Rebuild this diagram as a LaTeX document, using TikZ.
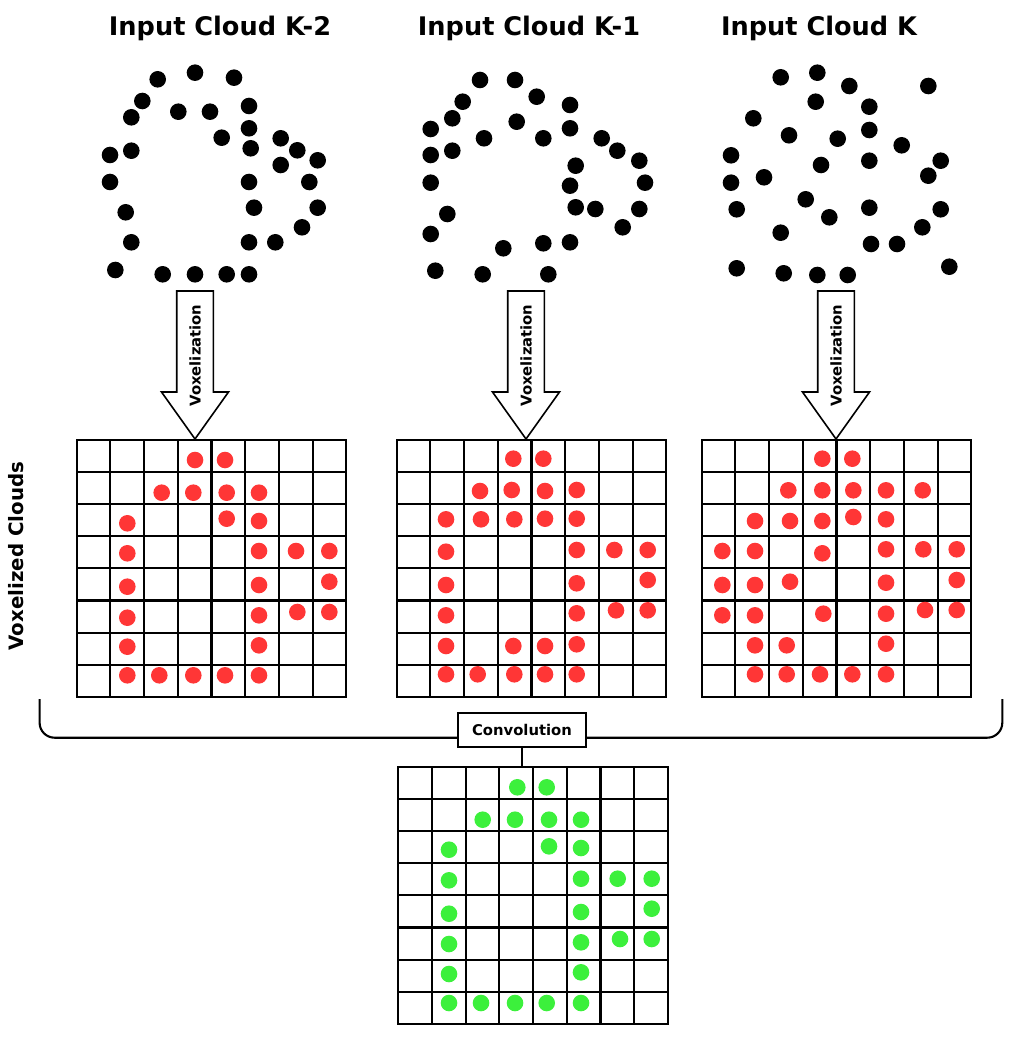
\documentclass[tikz,border=0pt]{standalone}
\usepackage{fontspec}
\setmainfont{DejaVu Sans}
\usetikzlibrary{calc,positioning}

\definecolor{voxred}{HTML}{FF3636}
\definecolor{convgreen}{HTML}{3CF03C}

\tikzset{
  title/.style={font=\fontsize{12.8}{15}\selectfont\bfseries},
  smalllabel/.style={font=\fontsize{7.4}{9}\selectfont\bfseries},
  gridframe/.style={draw, line width=1.05pt, minimum width=134.8pt, minimum height=128.4pt,
    anchor=north west, inner sep=0pt, outer sep=0pt},
  gridline/.style={line width=1.05pt},
  voxarrow/.style={draw, line width=0.8pt, fill=white},
}

% 8x8 voxel grid: name, top left corner
\newcommand{\voxgrid}[2]{%
  \node[gridframe] (#1) at (#2) {};
  \foreach \i in {1,...,7} {
    \draw[gridline] ($(#1.north west)+(\i*33.7,0)$) -- ($(#1.south west)+(\i*33.7,0)$);
    \draw[gridline] ($(#1.north west)+(0,\i*32.1)$) -- ($(#1.north east)+(0,\i*32.1)$);
  }
}

% block arrow pointing down: label name, centre x
\newcommand{\voxdown}[2]{%
  \draw[voxarrow] (#2-18.3,291) -- (#2+18.3,291) -- (#2+18.3,392) -- (#2+33.5,392)
    -- (#2,439) -- (#2-33.5,392) -- (#2-18.3,392) -- cycle;
  \node[smalllabel, rotate=90] (#1) at (#2,355.5) {Voxelization};
}

\begin{document}
\begin{tikzpicture}[x=0.5pt,y=-0.5pt]
    \useasboundingbox (0,0) rectangle (1024,1043);

    % titles
    \node[title] (cloudA) at (220,28) {Input Cloud K-2};
    \node[title] (cloudB) at (529,28) {Input Cloud K-1};
    \node[title] (cloudC) at (819,28) {Input Cloud K};

    % input cloud K-2
    \foreach \x/\y in {157.7/79.3,195/72.7,234/77.7,142.3/101,178.3/111.7,210/111.7,249/106,
        131.3/117.3,249/128.3,221.7/137.7,110/155,131.3/150.7,250.7/148.3,280.7/138.3,
        297.3/150.3,317.7/160.3,280.7/165,110/182,249/182,309.3/182,125.7/212.3,254/207.7,
        317.7/207.7,131.3/242.3,249/242.3,275.3/242.3,302/227.3,115.3/270,162.7/274.3,
        195/274.3,226.7/274.3,249/274.3}
      \fill (\x,\y) circle (4.15pt);

    % input cloud K-1
    \foreach \x/\y in {480/80,515/80,536.7/96.7,570/105,462.7/101.7,452.3/118.3,516.7/121.7,
        570/128.3,430.7/129,484/138.3,543.3/138.3,601.7/138.3,430.7/155,452.3/150.7,
        617.3/150.7,639.3/160.7,575.7/165.7,430.7/182.7,570/185.7,645/182.7,575.7/207.3,
        595.3/209,639.3/209,447.3/214,622.7/227.3,430.7/234,503.3/248.3,543.3/243.3,
        570/242.3,435.3/270.7,482.7/274.3,548.3/274.3}
      \fill (\x,\y) circle (4.15pt);

    % input cloud K
    \foreach \x/\y in {780.7/77.3,817.3/72.7,849.3/86,928.3/86,815.7/101.7,869.3/106.7,
        753.3/118.3,789/135.3,837.7/138.7,869.3/130,901.7/145.3,731/155.3,821/165,
        869.3/160.7,940.7/160.7,928.3/175.7,731/182.7,764/177.3,736.7/209.3,805.7/199.3,
        829.3/217.3,869.3/207.7,940.7/209.3,922.3/227.3,780.7/232.7,871/244,897/244,
        736.7/268.3,783.7/273.3,817.3/275,847.7/275,949.3/266.7}
      \fill (\x,\y) circle (4.15pt);

    % voxelization arrows
    \voxdown{voxA}{195}
    \voxdown{voxB}{526}
    \voxdown{voxC}{836}

    % voxel grids
    \voxgrid{gridA}{76.7,440}
    \voxgrid{gridB}{396.7,440}
    \voxgrid{gridC}{701.7,440}
    \voxgrid{gridD}{398.3,767}

    \node[font=\fontsize{9.9}{12}\selectfont\bfseries, rotate=90] (voxlabel) at (16,556) {Voxelized Clouds};

    % occupied voxels K-2
    \foreach \x/\y in {195/460,225/460,161.7/492.7,193.3/492.7,226.7/492.7,259/492.7,
        127.3/523.3,226.7/518.7,259/521,127.3/553.3,259/551,296/551,329.3/551,
        127.3/586.7,259/585,329.3/581.7,127.3/617.7,259/615.3,297.3/612,329.3/612,
        127.3/646.7,259/645.3,127.3/675.3,159.3/675.3,193.3/675.3,225/675.3,259/675.3}
      \fill[voxred] (\x,\y) circle (4.15pt);

    % occupied voxels K-1
    \foreach \x/\y in {513.3/458.7,543.3/458.7,480/491,511.7/490,545/491,576.7/490,
        446/519.3,481/519.3,514.3/519.3,545/518.7,576.7/518.7,446/551.7,576.7/550,
        614.3/550,647.7/550,446/585,576.7/583.3,647.7/580,446/615.3,576.7/613.3,
        616/610.3,647.7/610.3,446/646,513.3/646,545/646,576.7/644.3,446/674.3,
        477.7/674.3,514.3/674.3,545/674.3,576.7/674.3}
      \fill[voxred] (\x,\y) circle (4.15pt);

    % occupied voxels K
    \foreach \x/\y in {822.3/458.7,852.3/458.7,788.3/490.3,822.3/490.3,853.3/490.3,
        886/490.3,922.7/490.3,755/521,790/521,822.3/521,853.3/517,886/519.3,722.3/551,
        755/551,822.3/553.3,886/549.3,923.3/549.3,956.7/549.3,722.3/585,755/585,
        790/581.7,886/582.7,956.7/580,722.3/615.3,755/615.3,823.3/613.7,886/613.7,
        925/610,956.7/610,755/645.3,786.7/645.3,886/643.7,755/674.3,786.7/674.3,
        820/674.3,852.3/674.3,886/674.3}
      \fill[voxred] (\x,\y) circle (4.15pt);

    % brace and convolution
    \coordinate (braceL) at (39.6,699);
    \coordinate (braceR) at (1002.3,699);
    \draw[gridline, rounded corners=7.5pt] (braceL) -- ++(0,38.7) -| (braceR);
    \node[draw, fill=white, line width=1.05pt, smalllabel, inner sep=0pt,
      minimum width=63.7pt, minimum height=17.3pt] (conv) at (522,730) {Convolution};
    \draw[gridline] (conv.south) -- (conv.south |- gridD.north);

    % convolved voxels
    \foreach \x/\y in {517.3/787.3,546.7/787.3,482.7/819.7,515/819.7,549/819.7,581/819.7,
        449/849.7,549/846.3,581/848,449/880.3,581/878.7,617.7/878.7,651.7/878.7,
        449/913.7,581/912,651.7/908.7,449/944,581/942.3,620/939,651.7/939,
        449/974,581/972.3,449/1003,481/1003,515/1003,546.7/1003,581/1003}
      \fill[convgreen] (\x,\y) circle (4.15pt);

\end{tikzpicture}
\end{document}
